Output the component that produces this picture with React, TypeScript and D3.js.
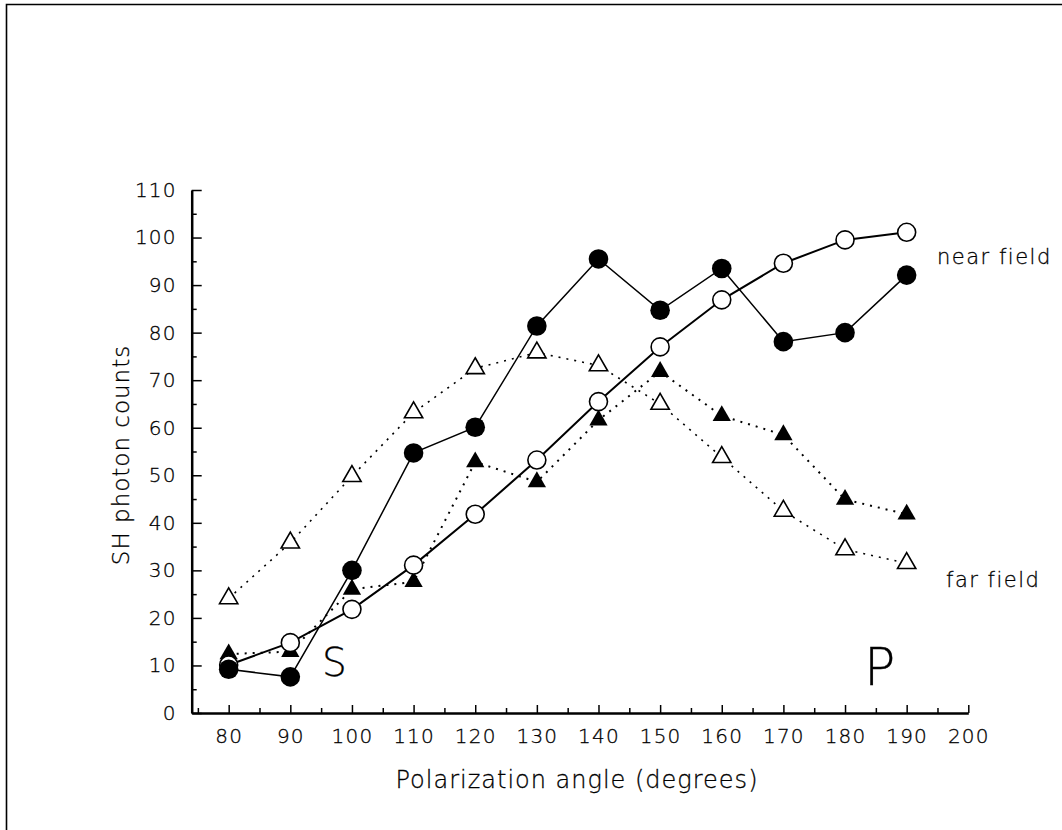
import * as d3 from 'd3';
import React, { useRef, useEffect } from 'react';

// polarization angle (degrees)
const angles = [80, 90, 100, 110, 120, 130, 140, 150, 160, 170, 180, 190];

// near field (solid lines)
const nearFilled = [9.2, 7.6, 30, 54.7, 60.1, 81.4, 95.5, 84.7, 93.5, 78.1, 80, 92.1];
const nearOpen = [10.1, 14.8, 21.8, 31.1, 41.8, 53.2, 65.5, 77, 86.9, 94.6, 99.5, 101.1];

// far field (dotted lines)
const farOpen = [24.1, 35.8, 49.8, 63.2, 72.5, 75.8, 73.1, 65, 53.8, 42.5, 34.4, 31.5];
const farFilled = [12.4, 12.9, 26, 27.6, 52.8, 48.6, 61.6, 71.8, 62.5, 58.5, 44.9, 41.8];

const xMajor = [80, 90, 100, 110, 120, 130, 140, 150, 160, 170, 180, 190, 200];
const xMinor = [75, 85, 95, 105, 115, 125, 135, 145, 155, 165, 175, 185, 195];
const yMajor = [0, 10, 20, 30, 40, 50, 60, 70, 80, 90, 100, 110];
const yMinor = [5, 15, 25, 35, 45, 55, 65, 75, 85, 95, 105];

const FONT = '"DejaVu Sans", sans-serif';

function PolarizationChart() {
  const svgRef = useRef<SVGSVGElement>(null);

  useEffect(() => {
    const svg = d3.select(svgRef.current);
    svg.selectAll('*').remove();

    const x = d3.scaleLinear().domain([74, 200]).range([191.7, 968.3]);
    const y = d3.scaleLinear().domain([0, 110]).range([713, 190]);

    /* frame */
    svg.append('path')
      .attr('d', 'M6.5,830 V4.5 H1062')
      .attr('fill', 'none')
      .attr('stroke', '#000')
      .attr('stroke-width', 1.6);

    /* axes */
    const xAxis = svg.append('g')
      .attr('transform', `translate(0, ${y(0)})`)
      .call(d3.axisBottom(x).tickValues(xMajor).tickSize(-8).tickSizeOuter(0).tickPadding(13));
    svg.append('g')
      .attr('transform', `translate(0, ${y(0)})`)
      .call(d3.axisBottom(x).tickValues(xMinor).tickSize(-5).tickSizeOuter(0).tickFormat(() => ''))
      .select('.domain').remove();

    const yAxis = svg.append('g')
      .attr('transform', `translate(${x(74)}, 0)`)
      .call(d3.axisLeft(y).tickValues(yMajor).tickSize(-10).tickSizeOuter(0).tickPadding(15));
    svg.append('g')
      .attr('transform', `translate(${x(74)}, 0)`)
      .call(d3.axisLeft(y).tickValues(yMinor).tickSize(-5).tickSizeOuter(0).tickFormat(() => ''))
      .select('.domain').remove();

    svg.selectAll('.domain').attr('stroke-width', 2.5);
    svg.selectAll('.tick line').attr('stroke-width', 1.5);
    [xAxis, yAxis].forEach((g) => {
      g.selectAll('text')
        .attr('font-family', FONT)
        .attr('font-weight', 200)
        .attr('font-size', 20)
        .attr('letter-spacing', 1.2)
        .attr('fill', '#000')
        .attr('stroke', '#000')
        .attr('stroke-width', 0.3);
    });
    xAxis.selectAll('text').attr('dy', '0.85em');

    /* lines */
    const pts = (vals: number[]) => vals.map((v, i) => [angles[i], v] as [number, number]);
    const line = d3.line<[number, number]>().x((d) => x(d[0])).y((d) => y(d[1]));

    const series = [
      { vals: farOpen, width: 1.6, dash: '2,6' },
      { vals: farFilled, width: 2, dash: '2,6' },
      { vals: nearOpen, width: 2, dash: null },
      { vals: nearFilled, width: 1.5, dash: null },
    ];
    series.forEach((s) => {
      svg.append('path')
        .attr('d', line(pts(s.vals)))
        .attr('fill', 'none')
        .attr('stroke', '#000')
        .attr('stroke-width', s.width)
        .attr('stroke-dasharray', s.dash);
    });

    /* markers */
    const tri = d3.symbol().type(d3.symbolTriangle).size(145);

    svg.append('g').selectAll('path')
      .data(pts(farOpen)).enter().append('path')
      .attr('d', tri)
      .attr('transform', (d) => `translate(${x(d[0])}, ${y(d[1])})`)
      .attr('fill', '#fff')
      .attr('stroke', '#000')
      .attr('stroke-width', 1.6);

    svg.append('g').selectAll('path')
      .data(pts(farFilled)).enter().append('path')
      .attr('d', tri)
      .attr('transform', (d) => `translate(${x(d[0])}, ${y(d[1])})`)
      .attr('fill', '#000');

    svg.append('g').selectAll('circle')
      .data(pts(nearOpen)).enter().append('circle')
      .attr('cx', (d) => x(d[0]))
      .attr('cy', (d) => y(d[1]))
      .attr('r', 9)
      .attr('fill', '#fff')
      .attr('stroke', '#000')
      .attr('stroke-width', 1.6);

    svg.append('g').selectAll('circle')
      .data(pts(nearFilled)).enter().append('circle')
      .attr('cx', (d) => x(d[0]))
      .attr('cy', (d) => y(d[1]))
      .attr('r', 9.8)
      .attr('fill', '#000');

    /* labels */
    const label = (txt: string, tx: number, ty: number, size: number, anchor = 'start', spacing = 1) =>
      svg.append('text')
        .attr('x', tx)
        .attr('y', ty)
        .attr('text-anchor', anchor)
        .attr('font-family', FONT)
        .attr('font-weight', 200)
        .attr('font-size', size)
        .attr('letter-spacing', spacing)
        .attr('fill', '#000')
        .attr('stroke', '#000')
        .attr('stroke-width', 0.3)
        .text(txt);

    label('near field', 937, 264, 21, 'start', 1.5);
    label('far field', 946, 587, 21, 'start', 1.5);
    label('S', 322, 676, 39, 'start', 0);
    label('P', 864, 685, 52, 'start', 0);
    label('Polarization angle (degrees)', 577, 788, 24, 'middle', 1);

    svg.append('text')
      .attr('transform', `translate(129, 455) rotate(-90)`)
      .attr('text-anchor', 'middle')
      .attr('font-family', FONT)
      .attr('font-weight', 200)
      .attr('font-size', 23)
      .attr('letter-spacing', 1)
      .attr('fill', '#000')
      .attr('stroke', '#000')
      .attr('stroke-width', 0.3)
      .text('SH photon counts');
  }, []);

  return (
    <svg
      ref={svgRef}
      width={1062}
      height={830}
      style={{ position: 'absolute', left: 0, top: 0, background: '#fff' }}
    ></svg>
  );
}

export default function App() {
  return <PolarizationChart />;
}
